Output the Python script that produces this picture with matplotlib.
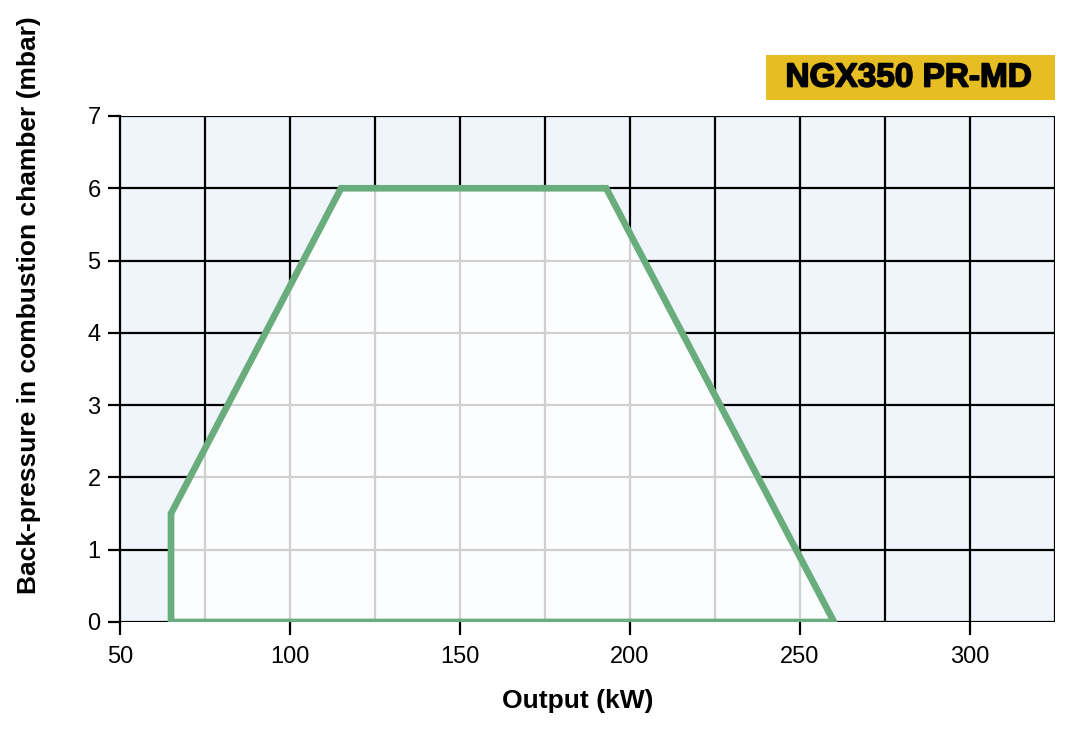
import matplotlib.pyplot as plt
import matplotlib.patheffects as pe
from matplotlib.patches import Polygon, Rectangle

# Рабочее поле горелки
output_kw = [65, 65, 115, 193, 260]
pressure_mbar = [0, 1.5, 6, 6, 0]

x_ticks = [50, 100, 150, 200, 250, 300]
y_ticks = [0, 1, 2, 3, 4, 5, 6, 7]
grid_x = [75, 100, 125, 150, 175, 200, 225, 250, 275, 300, 325]
grid_y = [1, 2, 3, 4, 5, 6, 7]

title = "NGX350 PR-MD"

plt.rcParams['font.family'] = ['Liberation Sans', 'DejaVu Sans']

fig = plt.figure(figsize=(10.86, 7.34), dpi=100)
ax = fig.add_axes([0.1105, 0.1526, 0.861, 0.6894])
ax.set_facecolor('#f0f5fc')

for gx in grid_x:
    ax.axvline(gx, color='black', lw=1.6, zorder=1)
for gy in grid_y:
    ax.axhline(gy, color='black', lw=1.6, zorder=1)
ax.axhline(0, color='black', lw=1.6, zorder=1)

pts = list(zip(output_kw, pressure_mbar))
ax.add_patch(Polygon(pts, closed=True, facecolor='white', alpha=0.82,
                     edgecolor='none', zorder=2))
ax.add_patch(Polygon(pts, closed=True, facecolor='none', edgecolor='#6aad7c',
                     lw=4.8, joinstyle='miter', zorder=3))

ax.set_xlim(50, 325)
ax.set_ylim(0, 7)
ax.set_xticks(x_ticks)
ax.set_yticks(y_ticks)
for s in ax.spines.values():
    s.set_visible(False)
ax.spines['left'].set_visible(True)
ax.spines['left'].set_linewidth(1.6)
ax.tick_params(direction='out', length=9, width=1.6, labelsize=17)
ax.tick_params(axis='x', pad=8)
ax.tick_params(axis='y', pad=5)

ax.set_xlabel('Output (kW)', fontsize=19, fontweight='bold')
ax.xaxis.set_label_coords(0.49, -0.133)
ax.set_ylabel('Back-pressure in combustion chamber (mbar)', fontsize=19,
              fontweight='bold')
ax.yaxis.set_label_coords(-0.085, 0.626)

# Плашка с названием модели
fig.patches.append(Rectangle((0.7053, 0.8638), 0.2662, 0.0613,
                             transform=fig.transFigure, facecolor='#e6be23',
                             edgecolor='none'))
fig.text(0.837, 0.8937, title, ha='center', va='center', fontsize=24,
         fontweight='bold',
         path_effects=[pe.withStroke(linewidth=1.2, foreground='black')])

fig.savefig('out.png', dpi=100)
